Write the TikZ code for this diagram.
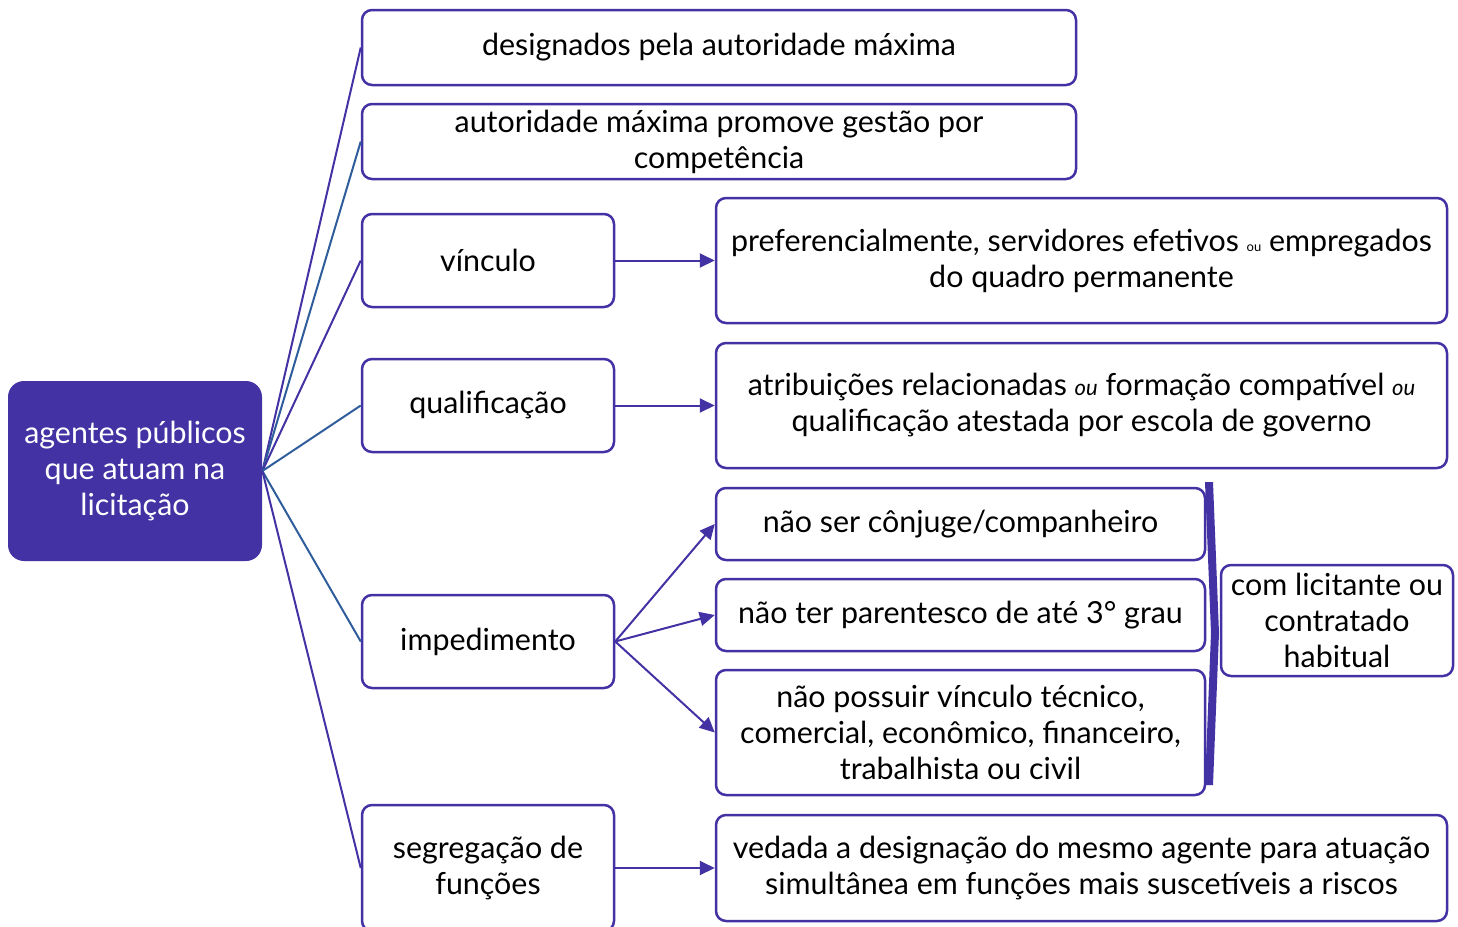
\documentclass[tikz,border=0pt]{standalone}
\usepackage{fontspec}
\setmainfont{Lato}
\usetikzlibrary{arrows.meta}
\definecolor{roxo}{HTML}{4332A3}
\definecolor{azul}{HTML}{2F5D9C}
\tikzset{
  caixa/.style={draw=roxo,line width=1.25pt,rounded corners=5pt,fill=white,align=center,inner sep=1pt,font=\fontsize{15.2}{18}\selectfont},
  raiz/.style={fill=roxo,rounded corners=8pt,text=white,align=center,inner sep=1pt,minimum width=127pt,minimum height=90pt,font=\fontsize{15.2}{18}\selectfont},
  ramo/.style={draw=roxo,line width=1pt},
  ramoazul/.style={draw=azul,line width=1pt},
  seta/.style={draw=roxo,line width=1pt,-{Triangle[length=7.5pt,width=7pt]},fill=roxo},
}
\begin{document}
\begin{tikzpicture}[x=0.5pt,y=-0.5pt]
        \useasboundingbox (0,0) rectangle (1458,927);
        %% Root
        \node[raiz] (agentes) at (135,471) {agentes públicos\\que atuam na\\licitação};
        %% First level
        \node[caixa,minimum width=357pt,minimum height=37.5pt] (designados) at (719,47.5) {designados pela autoridade máxima};
        \node[caixa,minimum width=357pt,minimum height=37.5pt] (gestao) at (719,141.5) {autoridade máxima promove gestão por\\competência};
        \node[caixa,minimum width=126pt,minimum height=46.5pt] (vinculo) at (488,260.5) {vínculo};
        \node[caixa,minimum width=126pt,minimum height=46.5pt] (qualif) at (488,405.5) {qualificação};
        \node[caixa,minimum width=126pt,minimum height=46.5pt] (imped) at (488,641.5) {impedimento};
        \node[caixa,minimum width=126pt,minimum height=63pt] (segreg) at (488,868) {segregação de\\funções};
        %% Second level
        \node[caixa,minimum width=365.5pt,minimum height=62.5pt] (servidores) at (1081.5,260.5) {preferencialmente, servidores efetivos {\fontsize{6.5}{7}\selectfont ou} empregados\\do quadro permanente};
        \node[caixa,minimum width=365.5pt,minimum height=62.5pt] (atribuicoes) at (1081.5,405.5) {atribuições relacionadas {\itshape\fontsize{11}{12}\selectfont ou} formação compatível {\itshape\fontsize{11}{12}\selectfont ou}\\qualificação atestada por escola de governo};
        \node[caixa,minimum width=244.5pt,minimum height=36pt] (conjuge) at (960.5,524) {não ser cônjuge/companheiro};
        \node[caixa,minimum width=244.5pt,minimum height=36pt] (parentesco) at (960.5,615) {não ter parentesco de até 3° grau};
        \node[caixa,minimum width=244.5pt,minimum height=62.5pt] (possuir) at (960.5,732.5) {não possuir vínculo técnico,\\comercial, econômico, financeiro,\\trabalhista ou civil};
        \node[caixa,minimum width=116pt,minimum height=55.5pt] (licitante) at (1337,620.5) {com licitante ou\\contratado\\habitual};
        \node[caixa,minimum width=365.5pt,minimum height=53pt] (vedada) at (1081.5,868) {vedada a designação do mesmo agente para atuação\\simultânea em funções mais suscetíveis a riscos};
        %% Branches
        \draw[ramo] (agentes.east) -- (designados.west);
        \draw[ramoazul] (agentes.east) -- (gestao.west);
        \draw[ramo] (agentes.east) -- (vinculo.west);
        \draw[ramoazul] (agentes.east) -- (qualif.west);
        \draw[ramoazul] (agentes.east) -- (imped.west);
        \draw[ramo] (agentes.east) -- (segreg.west);
        %% Arrows
        \draw[seta] (vinculo.east) -- (servidores.west);
        \draw[seta] (qualif.east) -- (atribuicoes.west);
        \draw[seta] (imped.east) -- (conjuge.west);
        \draw[seta] (imped.east) -- (parentesco.west);
        \draw[seta] (imped.east) -- (possuir.west);
        \draw[seta] (segreg.east) -- (vedada.west);
        %% Bracket
        \fill[roxo] (1205,482) -- (1213,482) -- (1219,633) -- (1213,785) -- (1205,785) -- (1211,633) -- cycle;
\end{tikzpicture}
\end{document}
